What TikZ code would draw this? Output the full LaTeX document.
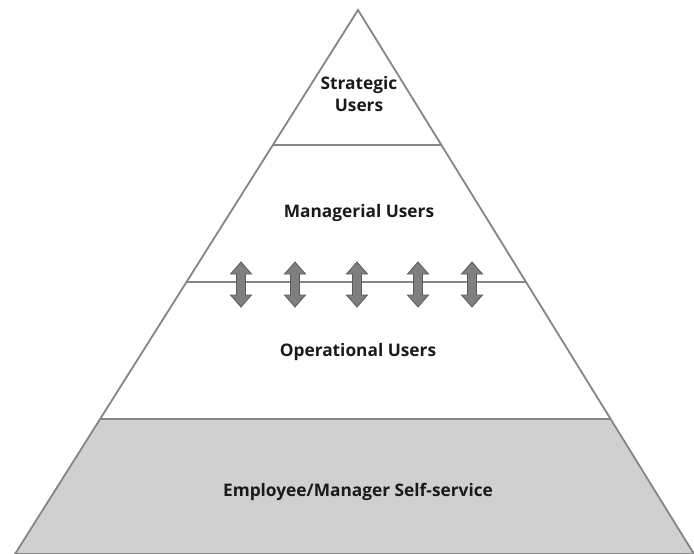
\documentclass[tikz,border=0pt]{standalone}
\usepackage{fontspec}
\setmainfont{Open Sans}
\usetikzlibrary{calc}
\definecolor{edgegray}{HTML}{858585}
\definecolor{basegray}{HTML}{D0D0D0}
\definecolor{arrowfill}{HTML}{7F7F7F}
\definecolor{arrowedge}{HTML}{5A5A5A}
\definecolor{txt}{HTML}{1A1A1A}
\tikzset{
  edge/.style={draw=edgegray, line width=1.8pt, line join=miter},
  label/.style={font=\bfseries\fontsize{17.3}{22}\selectfont, text=txt, align=center, inner sep=0pt},
  udarrow/.pic={\draw[fill=arrowfill, draw=arrowedge, line width=0.8pt, line join=miter]
    (0,22.5) -- (10.5,10.5) -- (4.5,10.5) -- (4.5,-10.5) -- (10.5,-10.5) -- (0,-22.5)
    -- (-10.5,-10.5) -- (-4.5,-10.5) -- (-4.5,10.5) -- (-10.5,10.5) -- cycle;}
}
\begin{document}
\begin{tikzpicture}[x=1pt,y=-1pt]
\useasboundingbox (0,0) rectangle (694,554);
\coordinate (apex) at (358,10);
\coordinate (bl) at (15,554);
\coordinate (br) at (694,554);
\coordinate (l1) at ($(apex)!0.248!(bl)$);
\coordinate (r1) at ($(apex)!0.248!(br)$);
\coordinate (l2) at ($(apex)!0.5!(bl)$);
\coordinate (r2) at ($(apex)!0.5!(br)$);
\coordinate (l3) at ($(apex)!0.752!(bl)$);
\coordinate (r3) at ($(apex)!0.752!(br)$);
\fill[basegray] (l3) -- (r3) -- (br) -- (bl) -- cycle;
\draw[edge] (apex) -- (br) -- (bl) -- cycle;
\draw[edge] (l1) -- (r1);
\draw[edge] (l2) -- (r2);
\draw[edge] (l3) -- (r3);
\foreach \x/\n in {241/a1,295/a2,357/a3,418/a4,472/a5}
  \pic (\n) at (\x,284.5) {udarrow};
\node[label] (strategic) at (359,94) {Strategic\\Users};
\node[label] (managerial) at (359,213) {Managerial Users};
\node[label] (operational) at (358,352) {Operational Users};
\node[label] (self) at (358,492) {Employee/Manager Self-service};
\end{tikzpicture}
\end{document}
